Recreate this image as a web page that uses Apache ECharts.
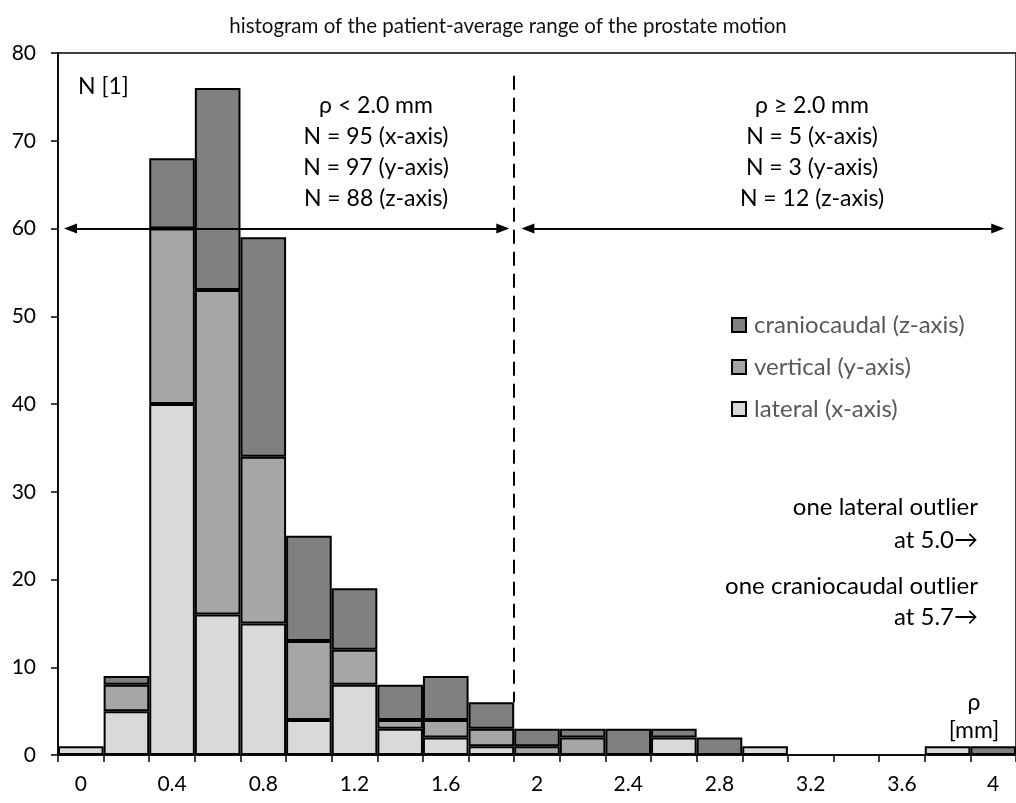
<!DOCTYPE html>
<html>
<head>
<meta charset="utf-8">
<script src="https://cdn.jsdelivr.net/npm/echarts@6/dist/echarts.min.js"></script>
<style>html,body{margin:0;padding:0;background:#fff;}#c{width:1016px;height:803px;}</style>
</head>
<body>
<div id="c"></div>
<script>
// ---- data ----
const categories = ['0','0.2','0.4','0.6','0.8','1','1.2','1.4','1.6','1.8','2','2.2','2.4','2.6','2.8','3','3.2','3.4','3.6','3.8','4'];
const lateral    = [1,5,40,16,15,4,8,3,2,1,0,0,0,2,0,1,0,0,0,1,0];
const vertical   = [0,3,20,37,19,9,4,1,2,2,1,2,0,0,0,0,0,0,0,0,0];
const cranio     = [0,1,8,23,25,12,7,4,5,3,2,1,3,1,2,0,0,0,0,0,1];
const yTicks = {min: 0, max: 80, interval: 10};
const seriesNames = ['lateral (x-axis)', 'vertical (y-axis)', 'craniocaudal (z-axis)'];
const legendOrder = ['craniocaudal (z-axis)', 'vertical (y-axis)', 'lateral (x-axis)'];
// annotation positions in data units (value x axis spans bin edges)
const dividerX = 1.9;          // boundary between the 1.8 and 2.0 bins
const dividerTop = 77.4, dividerBottom = 6;
const arrowY = 60;
const leftArrow = [-0.045, 1.85];
const rightArrow = [1.96, 4.02];

const FONT = 'Lato, "Open Sans", sans-serif';
const colors = ['#d9d9d9', '#a6a6a6', '#808080'];

function mk(arr) {
  return arr.map(v => v === 0 ? {value: 0, itemStyle: {borderWidth: 0}} : v);
}

const chart = echarts.init(document.getElementById('c'), null, {renderer: 'canvas'});
const barBase = {
  type: 'bar', stack: 'n', barWidth: '100%', barCategoryGap: 0,
  xAxisIndex: 0, yAxisIndex: 0, animation: false,
};
const option = {
  animation: false,
  backgroundColor: '#fff',
  title: {
    text: 'histogram of the patient-average range of the prostate motion',
    left: 'center', top: 11,
    textStyle: {fontFamily: FONT, fontSize: 20.5, fontWeight: 'normal', color: '#111'}
  },
  grid: {left: 58, top: 53, width: 966, height: 702, show: true, borderColor: '#000', borderWidth: 1.5, containLabel: false},
  legend: {
    data: legendOrder, orient: 'vertical', left: 731, top: 313, padding: 0,
    itemWidth: 14, itemHeight: 14, itemGap: 18, icon: 'rect',
    itemStyle: {borderColor: '#000', borderWidth: 2},
    textStyle: {fontFamily: FONT, fontSize: 24, color: '#595959', lineHeight: 24, padding: [0, 0, 0, 3]},
    selectedMode: false
  },
  xAxis: [{
    type: 'category', data: categories, boundaryGap: true, position: 'bottom',
    axisLine: {lineStyle: {color: '#000', width: 1.5}},
    axisTick: {show: true, interval: 0, length: 7, lineStyle: {color: '#000', width: 1.5}},
    axisLabel: {interval: 1, margin: 19, fontFamily: FONT, fontSize: 21, color: '#000'},
    splitLine: {show: false}
  }, {
    type: 'value', min: -0.1, max: 4.1, show: false
  }],
  yAxis: {
    type: 'value', min: yTicks.min, max: yTicks.max, interval: yTicks.interval,
    axisLine: {show: true, onZero: false, lineStyle: {color: '#000', width: 1.5}},
    axisTick: {show: true, length: 7, lineStyle: {color: '#000', width: 1.5}},
    axisLabel: {margin: 22, fontFamily: FONT, fontSize: 21, color: '#000'},
    splitLine: {show: false}
  },
  series: [
    Object.assign({}, barBase, {name: seriesNames[0], data: mk(lateral), itemStyle: {color: colors[0], borderColor: '#000', borderWidth: 2}}),
    Object.assign({}, barBase, {name: seriesNames[1], data: mk(vertical), itemStyle: {color: colors[1], borderColor: '#000', borderWidth: 2}}),
    Object.assign({}, barBase, {name: seriesNames[2], data: mk(cranio), itemStyle: {color: colors[2], borderColor: '#000', borderWidth: 2}}),
    {
      type: 'line', xAxisIndex: 1, yAxisIndex: 0, data: [], silent: true,
      markLine: {
        silent: true, animation: false,
        label: {show: false},
        emphasis: {disabled: true},
        data: [
          [{coord: [dividerX, dividerTop], symbol: 'none'}, {coord: [dividerX, dividerBottom], symbol: 'none',
            lineStyle: {type: [14, 8], color: '#000', width: 2}}],
          [{coord: [leftArrow[0], arrowY], symbol: 'triangle', symbolSize: [10, 13]}, {coord: [leftArrow[1], arrowY], symbol: 'triangle', symbolSize: [10, 13]}],
          [{coord: [rightArrow[0], arrowY], symbol: 'triangle', symbolSize: [10, 13]}, {coord: [rightArrow[1], arrowY], symbol: 'triangle', symbolSize: [10, 13]}]
        ],
        lineStyle: {type: 'solid', color: '#000', width: 2}
      }
    }
  ],
  graphic: [
    {type: 'text', x: 78, y: 75, style: {text: 'N [1]', font: '23px ' + FONT, fill: '#000', verticalAlign: 'top'}},
    {type: 'text', x: 376, y: 90, style: {text: 'ρ < 2.0 mm\nN = 95 (x-axis)\nN = 97 (y-axis)\nN = 88 (z-axis)', font: '23px ' + FONT, fill: '#000', align: 'center', verticalAlign: 'top', lineHeight: 31}},
    {type: 'text', x: 812, y: 90, style: {text: 'ρ ≥ 2.0 mm\nN = 5 (x-axis)\nN = 3 (y-axis)\nN = 12 (z-axis)', font: '23px ' + FONT, fill: '#000', align: 'center', verticalAlign: 'top', lineHeight: 31}},
    {type: 'text', x: 978, y: 491, style: {text: 'one lateral outlier\nat 5.0→', font: '24px ' + FONT, fill: '#000', align: 'right', verticalAlign: 'top', lineHeight: 33}},
    {type: 'text', x: 978, y: 571, style: {text: 'one craniocaudal outlier\nat 5.7→', font: '24px ' + FONT, fill: '#000', align: 'right', verticalAlign: 'top', lineHeight: 31}},
    {type: 'text', x: 974, y: 689, style: {text: 'ρ\n[mm]', font: '23px ' + FONT, fill: '#000', align: 'center', verticalAlign: 'top', lineHeight: 28}}
  ]
};
chart.setOption(option);
</script>
</body>
</html>
